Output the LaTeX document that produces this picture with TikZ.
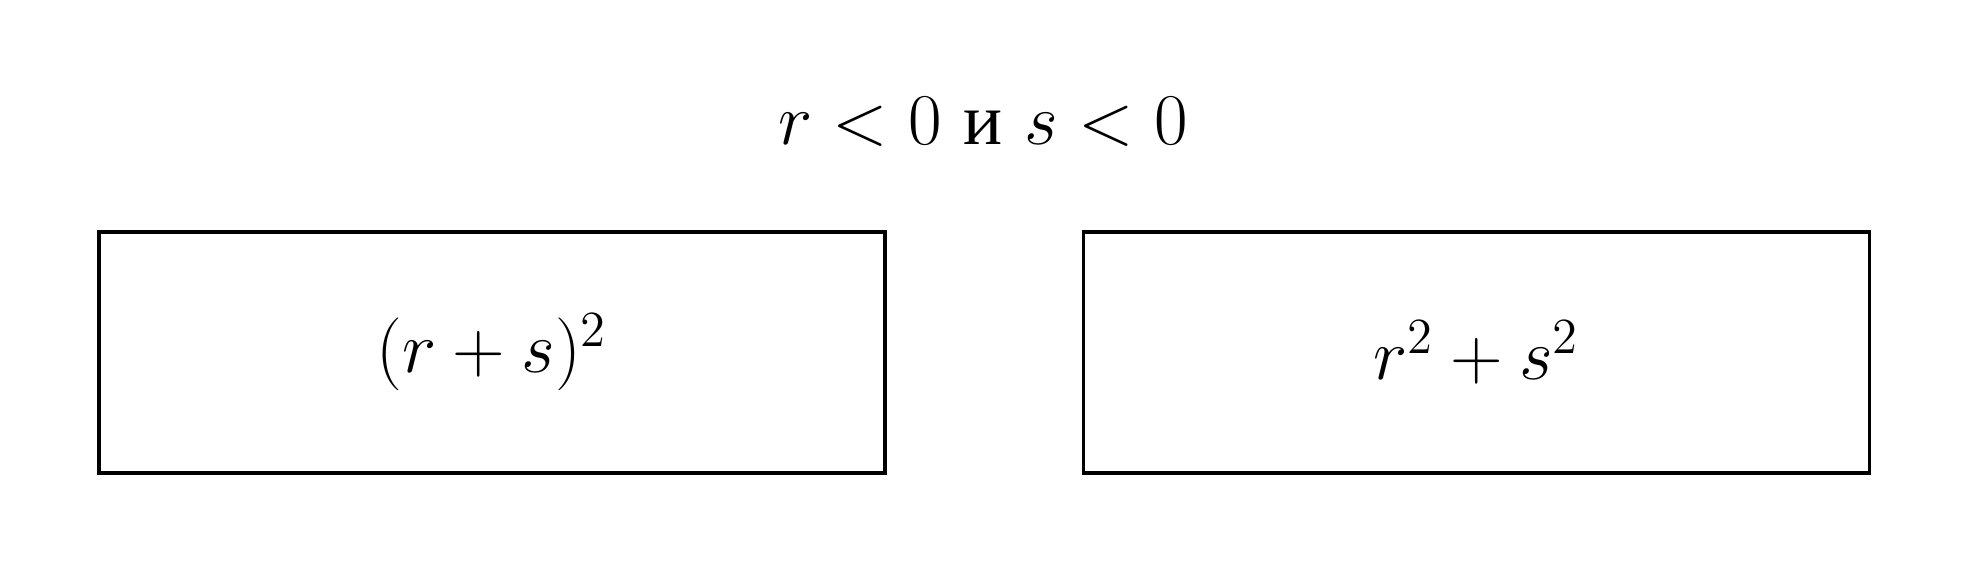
\documentclass[tikz,border=0pt]{standalone}
\usepackage{fontspec}
\newfontfamily\cyrfont{Liberation Serif}
\begin{document}
\begin{tikzpicture}[
  exprbox/.style={draw, line width=1pt, minimum width=7.86cm, minimum height=2.41cm, inner sep=0pt, font=\huge},
  titletext/.style={font=\huge, inner sep=0pt}
]
\useasboundingbox (0,0) rectangle (19.69,5.74);
\node[titletext, anchor=base] (title) at (9.83,4.30) {$r<0$ {\cyrfont и} $s<0$};
\node[exprbox] (left) at (4.92,2.215) {$(r+s)^2$};
\node[exprbox] (right) at (14.765,2.215) {$r^2+s^2$};
\end{tikzpicture}
\end{document}
